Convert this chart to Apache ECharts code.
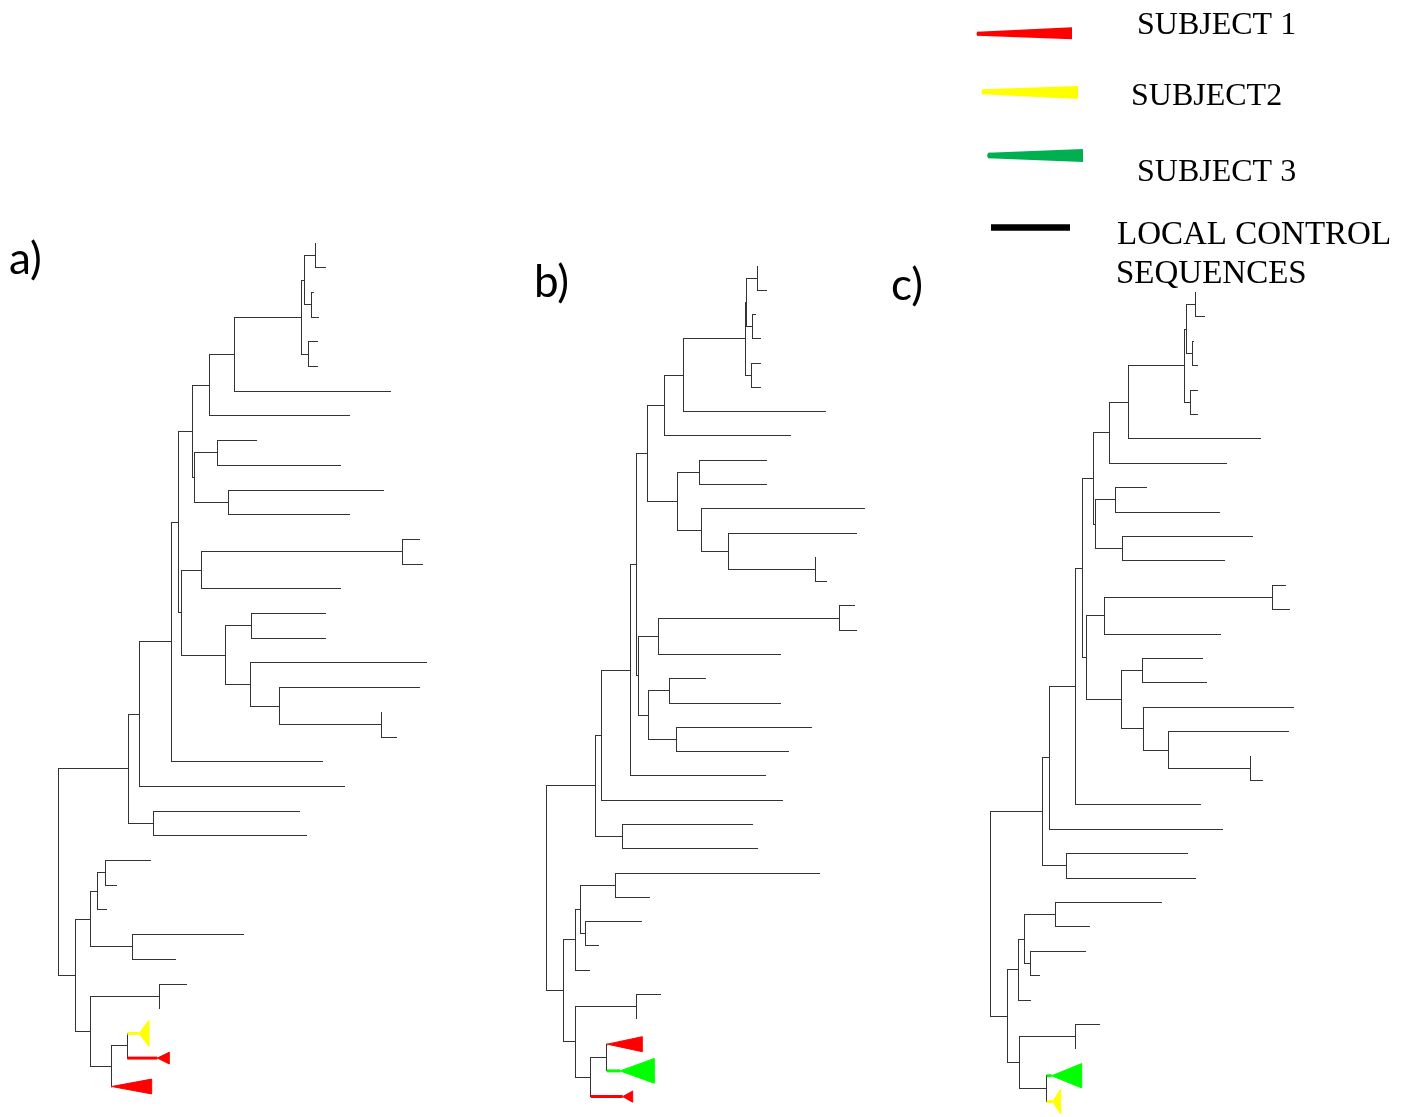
<!DOCTYPE html>
<html>
<head>
<meta charset="utf-8">
<script src="https://cdn.jsdelivr.net/npm/echarts@6/dist/echarts.min.js"></script>
<style>
html, body { margin: 0; padding: 0; background: #ffffff; }
#chart { width: 1410px; height: 1117px; }
</style>
</head>
<body>
<div id="chart"></div>
<script>
// ---- Tree a ----
// internal nodes: [id, parent, depth]
const nodesA = [
  ['A25', null, 0], ['A23', 'A25', 70.3], ['A26', 'A25', 17.3],
  ['A22', 'A23', 81.7], ['A24', 'A23', 95.7], ['A21', 'A22', 113],
  ['A12', 'A21', 120.7], ['A11', 'A12', 134], ['A13', 'A12', 123.7],
  ['A7', 'A11', 151.3], ['A10', 'A11', 136], ['A6', 'A7', 176],
  ['A5', 'A6', 243.7], ['A3', 'A5', 246.7], ['A4', 'A5', 250.3],
  ['A1', 'A3', 257.7], ['A2', 'A3', 253.7], ['A8', 'A10', 159],
  ['A9', 'A10', 170.3], ['A14', 'A13', 143.3], ['A15', 'A13', 167.3],
  ['A16', 'A14', 344.3], ['A17', 'A15', 193.3], ['A18', 'A15', 192.3],
  ['A19', 'A18', 221.3], ['A20', 'A19', 323.7], ['A27', 'A26', 32.7],
  ['A28', 'A26', 32.7], ['A29', 'A27', 39.3], ['A30', 'A27', 74.7],
  ['A31', 'A29', 47.7], ['A32', 'A28', 101], ['A33', 'A28', 53.3],
  ['A34', 'A33', 69.3]
];
// tips: [parent, depth, row]
const tipsA = [
  ['A1', 257.7, 0], ['A1', 267, 1], ['A2', 255, 2], ['A2', 260, 3],
  ['A4', 259, 4], ['A4', 259, 5], ['A6', 332.7, 6], ['A7', 291, 7],
  ['A8', 198.7, 8], ['A8', 282, 9], ['A9', 325, 10], ['A9', 291, 11],
  ['A16', 361.3, 12], ['A16', 364.7, 13], ['A14', 282, 14], ['A17', 267.7, 15],
  ['A17', 267.7, 16], ['A18', 368.7, 17], ['A19', 361.3, 18], ['A20', 323.7, 19],
  ['A20', 338.7, 20], ['A21', 264.7, 21], ['A22', 286.3, 22], ['A24', 241.3, 23],
  ['A24', 248, 24], ['A31', 92.3, 25], ['A31', 58.3, 26], ['A29', 48.7, 27],
  ['A30', 185.3, 28], ['A30', 117.7, 29], ['A32', 128, 30], ['A32', 101, 31]
];
// collapsed subject clades: [parent, stem end, base depth, row, half height, subject]
const cladesA = [
  ['A34', 81, 91, 32, 0.53, 2],
  ['A34', 99.3, 111.3, 33, 0.24, 1],
  ['A33', 53.7, 93.7, 34.15, 0.3, 1]
];

// ---- Tree b ----
const nodesB = [
  ['B0', null, 0], ['B23', 'B0', 48.6], ['B25', 'B0', 16.6],
  ['B22', 'B23', 54.3], ['B24', 'B23', 75.3], ['B21', 'B22', 83.3],
  ['B14', 'B21', 90], ['B13', 'B14', 101], ['B15', 'B14', 91.6],
  ['B7', 'B13', 117.3], ['B12', 'B13', 130.3], ['B6', 'B7', 136.6],
  ['B5', 'B6', 198.3], ['B3', 'B5', 200], ['B4', 'B5', 204.3],
  ['B1', 'B3', 211], ['B2', 'B3', 206], ['B8', 'B12', 152.3],
  ['B11', 'B12', 155], ['B9', 'B11', 181.3], ['B10', 'B9', 268.3],
  ['B16', 'B15', 111.6], ['B18', 'B16', 292.3], ['B17', 'B15', 102],
  ['B19', 'B17', 123], ['B20', 'B17', 129.6], ['B29', 'B25', 28.3],
  ['B28', 'B29', 34], ['B26', 'B28', 68.3], ['B27', 'B28', 38.3],
  ['B33', 'B25', 29], ['B30', 'B33', 89.3], ['B32', 'B33', 44],
  ['B31', 'B32', 60]
];
const tipsB = [
  ['B1', 211, 0], ['B1', 220, 1], ['B2', 208.3, 2], ['B2', 213.3, 3],
  ['B4', 213.3, 4], ['B4', 213.3, 5], ['B6', 278.3, 6], ['B7', 243.3, 7],
  ['B8', 220, 8], ['B8', 220, 9], ['B11', 317.3, 10], ['B9', 310, 11],
  ['B10', 268.3, 12], ['B10', 280, 13], ['B18', 307.3, 14], ['B18', 310, 15],
  ['B16', 233.3, 16], ['B19', 159, 17], ['B19', 233.3, 18], ['B20', 264.3, 19],
  ['B20', 241.6, 20], ['B21', 219, 21], ['B22', 235.6, 22], ['B24', 205.6, 23],
  ['B24', 210.3, 24], ['B26', 272.6, 25], ['B26', 102.3, 26], ['B27', 94.3, 27],
  ['B27', 51.6, 28], ['B29', 42.3, 29], ['B30', 114, 30], ['B30', 89.3, 31]
];
const cladesB = [
  ['B31', 60.6, 95.6, 32.05, 0.31, 1],
  ['B31', 73.3, 107.6, 33.15, 0.51, 3],
  ['B32', 76, 86, 34.21, 0.23, 1]
];

// ---- Tree c ----
const nodesC = [
  ['C0', null, 0], ['C23', 'C0', 52], ['C33', 'C0', 16.6],
  ['C22', 'C23', 58.3], ['C24', 'C23', 76], ['C21', 'C22', 84.3],
  ['C12', 'C21', 91.8], ['C11', 'C12', 103], ['C13', 'C12', 95.3],
  ['C7', 'C11', 118.6], ['C10', 'C11', 104.3], ['C6', 'C7', 138],
  ['C5', 'C6', 193.6], ['C3', 'C5', 195.6], ['C4', 'C5', 199.3],
  ['C1', 'C3', 205], ['C2', 'C3', 201.6], ['C8', 'C10', 124.6],
  ['C9', 'C10', 131.3], ['C14', 'C13', 113.3], ['C16', 'C14', 281.6],
  ['C15', 'C13', 131], ['C17', 'C15', 152], ['C18', 'C15', 153],
  ['C19', 'C18', 177.6], ['C20', 'C19', 259.3], ['C29', 'C33', 27.6],
  ['C28', 'C29', 33.3], ['C26', 'C28', 64.3], ['C27', 'C28', 39.3],
  ['C32', 'C33', 28.3], ['C30', 'C32', 85], ['C31', 'C32', 56]
];
const tipsC = [
  ['C1', 205, 0], ['C1', 213.3, 1], ['C2', 202.3, 2], ['C2', 207, 3],
  ['C4', 206.6, 4], ['C4', 206.6, 5], ['C6', 269.3, 6], ['C7', 236, 7],
  ['C8', 156, 8], ['C8', 228.6, 9], ['C9', 261.3, 10], ['C9', 233.3, 11],
  ['C16', 295, 12], ['C16', 298.6, 13], ['C14', 229.3, 14], ['C17', 211.6, 15],
  ['C17', 216, 16], ['C18', 302.6, 17], ['C19', 297.6, 18], ['C20', 259.3, 19],
  ['C20', 272, 20], ['C21', 209.3, 21], ['C22', 231.3, 22], ['C24', 196.6, 23],
  ['C24', 205, 24], ['C26', 171, 25], ['C26', 98.3, 26], ['C27', 95, 27],
  ['C27', 48.3, 28], ['C29', 40, 29], ['C30', 108.6, 30], ['C30', 85, 31]
];
const cladesC = [
  ['C31', 61, 91, 32.1, 0.5, 3],
  ['C31', 62, 70, 33.16, 0.51, 2]
];

// legend entries
const legendLabels = ['SUBJECT 1', 'SUBJECT2', 'SUBJECT 3', 'LOCAL CONTROL', 'SEQUENCES'];
const panelLabels = ['a)', 'b)', 'c)'];

// subject colours inside the trees (index 1..3)
const TREE_COLORS = [null, '#ff0000', '#ffff00', '#00ff00'];
const BRANCH_COLOR = '#333333';

// Builds branch segments [x1, y1, x2, y2, subject] and wedges from a tree description.
function buildTree(nodes, tips, clades) {
  const depth = {}, kids = {};
  nodes.forEach(([id, p, d]) => { depth[id] = d; kids[id] = []; });
  nodes.forEach(([id, p]) => { if (p) kids[p].push({ node: id }); });
  tips.forEach(([p, d, r]) => kids[p].push(r));
  clades.forEach(c => kids[c[0]].push(c[3]));
  const span = {};
  function spanOf(id) {
    if (span[id]) return span[id];
    const vals = kids[id].map(k => typeof k === 'number' ? k : spanOf(k.node).y);
    const lo = Math.min(...vals), hi = Math.max(...vals);
    span[id] = { y: (lo + hi) / 2, lo, hi };
    return span[id];
  }
  const segs = [];
  nodes.forEach(([id, p, d]) => {
    const n = spanOf(id);
    segs.push([d, n.lo, d, n.hi, 0]);
    if (p) segs.push([depth[p], n.y, d, n.y, 0]);
  });
  tips.forEach(([p, d, r]) => segs.push([depth[p], r, d, r, 0]));
  const wedges = [];
  clades.forEach(([p, stem, base, r, h, s]) => {
    if (stem > depth[p]) segs.push([depth[p], r, stem, r, s]);
    wedges.push([stem, r, base, h, s]);
  });
  return { segs, wedges };
}

const trees = [
  buildTree(nodesA, tipsA, cladesA),
  buildTree(nodesB, tipsB, cladesB),
  buildTree(nodesC, tipsC, cladesC)
];

// panel placement: root x, first row y, row spacing
const layout = [
  { left: 58, top: 243, step: 24.7 },
  { left: 546.7, top: 266, step: 24.28 },
  { left: 990.7, top: 292.5, step: 24.4 }
];
const ROWS = 35;
const WIDTH = 380;

function snap(v) { return Math.round(v - 0.5) + 0.5; }

function renderBranch(params, api) {
  const a = api.coord([api.value(0), api.value(1)]);
  const b = api.coord([api.value(2), api.value(3)]);
  const s = api.value(4);
  if (s) {
    return {
      type: 'line',
      shape: { x1: a[0], y1: a[1], x2: b[0], y2: b[1] },
      style: { stroke: TREE_COLORS[s], lineWidth: 3, lineCap: 'butt' }
    };
  }
  return {
    type: 'line',
    shape: { x1: snap(a[0]), y1: snap(a[1]), x2: snap(b[0]), y2: snap(b[1]) },
    style: { stroke: BRANCH_COLOR, lineWidth: 1, lineCap: 'square' }
  };
}

function renderWedge(params, api) {
  const apexX = api.value(0), row = api.value(1), baseX = api.value(2), h = api.value(3);
  const s = api.value(4);
  const p0 = api.coord([apexX, row]);
  const p1 = api.coord([baseX, row - h]);
  const p2 = api.coord([baseX, row + h]);
  return {
    type: 'polygon',
    shape: { points: [p0, p1, p2] },
    style: { fill: TREE_COLORS[s], stroke: TREE_COLORS[s], lineWidth: 1 }
  };
}

const grid = [], xAxis = [], yAxis = [], series = [];
layout.forEach((L, i) => {
  grid.push({ left: L.left, top: L.top, width: WIDTH, height: L.step * ROWS, outerBoundsMode: 'none', containLabel: false });
  xAxis.push({ gridIndex: i, type: 'value', min: 0, max: WIDTH, show: false });
  yAxis.push({ gridIndex: i, type: 'value', min: 0, max: ROWS, inverse: true, show: false });
  series.push({
    type: 'custom', xAxisIndex: i, yAxisIndex: i, clip: false,
    data: trees[i].segs, renderItem: renderBranch, silent: true
  });
  series.push({
    type: 'custom', xAxisIndex: i, yAxisIndex: i, clip: false,
    data: trees[i].wedges, renderItem: renderWedge, silent: true
  });
});

const serif = '"Liberation Serif", "DejaVu Serif", serif';
const labelFont = 'Lato, "Open Sans", sans-serif';

const graphic = [
  // panel letters
  { type: 'text', left: 9, top: 238, style: { text: panelLabels[0], font: '44px ' + labelFont, fill: '#000' } },
  { type: 'text', left: 534, top: 261, style: { text: panelLabels[1], font: '44px ' + labelFont, fill: '#000' } },
  { type: 'text', left: 891, top: 264, style: { text: panelLabels[2], font: '44px ' + labelFont, fill: '#000' } },
  // legend keys
  { type: 'polygon', shape: { points: [[977, 31.7], [1072, 27.3], [1072, 39.3], [977, 35.7]] }, style: { fill: '#ff0000' } },
  { type: 'circle', shape: { cx: 978.5, cy: 33.7, r: 2 }, style: { fill: '#ff0000' } },
  { type: 'polygon', shape: { points: [[982, 89.3], [1078, 86], [1078, 99], [982, 94.3]] }, style: { fill: '#ffff00' } },
  { type: 'circle', shape: { cx: 984, cy: 91.8, r: 2.5 }, style: { fill: '#ffff00' } },
  { type: 'polygon', shape: { points: [[988, 152.7], [1083, 149], [1083, 162], [988, 158.3]] }, style: { fill: '#00b050' } },
  { type: 'circle', shape: { cx: 990, cy: 155.5, r: 2.8 }, style: { fill: '#00b050' } },
  { type: 'rect', shape: { x: 991, y: 224.3, width: 79, height: 6.4 }, style: { fill: '#000' } },
  // legend labels
  { type: 'text', x: 1137, y: 10, style: { text: legendLabels[0], font: '32px ' + serif, fill: '#000' } },
  { type: 'text', x: 1131, y: 81, style: { text: legendLabels[1], font: '32px ' + serif, fill: '#000' } },
  { type: 'text', x: 1137, y: 157, style: { text: legendLabels[2], font: '32px ' + serif, fill: '#000' } },
  { type: 'text', x: 1117, y: 219, style: { text: legendLabels[3], font: '33px ' + serif, fill: '#000' } },
  { type: 'text', x: 1116, y: 258, style: { text: legendLabels[4], font: '33px ' + serif, fill: '#000' } }
];

const chart = echarts.init(document.getElementById('chart'), null, { renderer: 'canvas' });
chart.setOption({
  backgroundColor: '#ffffff',
  animation: false,
  grid, xAxis, yAxis, series, graphic
});
</script>
</body>
</html>
